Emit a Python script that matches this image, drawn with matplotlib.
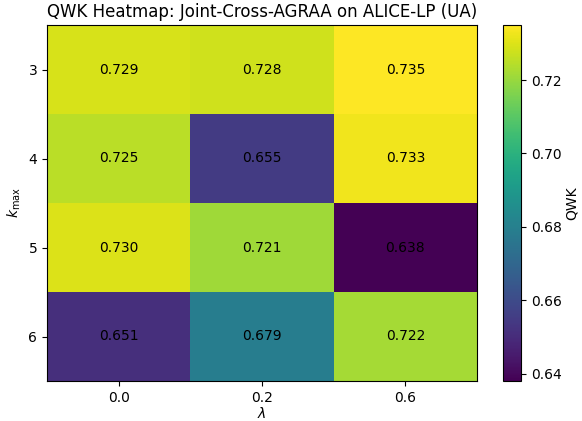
import numpy as np
import matplotlib
matplotlib.use("Agg")
import matplotlib.pyplot as plt

k_max = ["3", "4", "5", "6"]
lambdas = ["0.0", "0.2", "0.6"]
qwk = np.array([
    [0.729, 0.728, 0.735],
    [0.725, 0.655, 0.733],
    [0.730, 0.721, 0.638],
    [0.651, 0.679, 0.722],
])

fig = plt.figure(figsize=(5.82, 4.21), dpi=100)
W, H = 582, 421
ax = fig.add_axes([47 / W, 1 - 381 / H, (477 - 47) / W, (381 - 25) / H])
cax = fig.add_axes([503 / W, 1 - 381 / H, (521 - 503) / W, (381 - 25) / H])

im = ax.imshow(qwk, cmap="viridis", aspect="auto")
for i in range(qwk.shape[0]):
    for j in range(qwk.shape[1]):
        ax.text(j, i, f"{qwk[i, j]:.3f}", ha="center", va="center", color="black", fontsize=10)

ax.set_xticks(range(len(lambdas)))
ax.set_xticklabels(lambdas)
ax.set_yticks(range(len(k_max)))
ax.set_yticklabels(k_max)
ax.set_xlabel(r"$\lambda$", labelpad=1)
ax.set_ylabel(r"$k_{\max}$")
ax.set_title("QWK Heatmap: Joint-Cross-AGRAA on ALICE-LP (UA)")

cb = fig.colorbar(im, cax=cax)
cb.set_label("QWK", labelpad=2)
cb.set_ticks([0.64, 0.66, 0.68, 0.70, 0.72])

fig.savefig("out.png", dpi=100)
